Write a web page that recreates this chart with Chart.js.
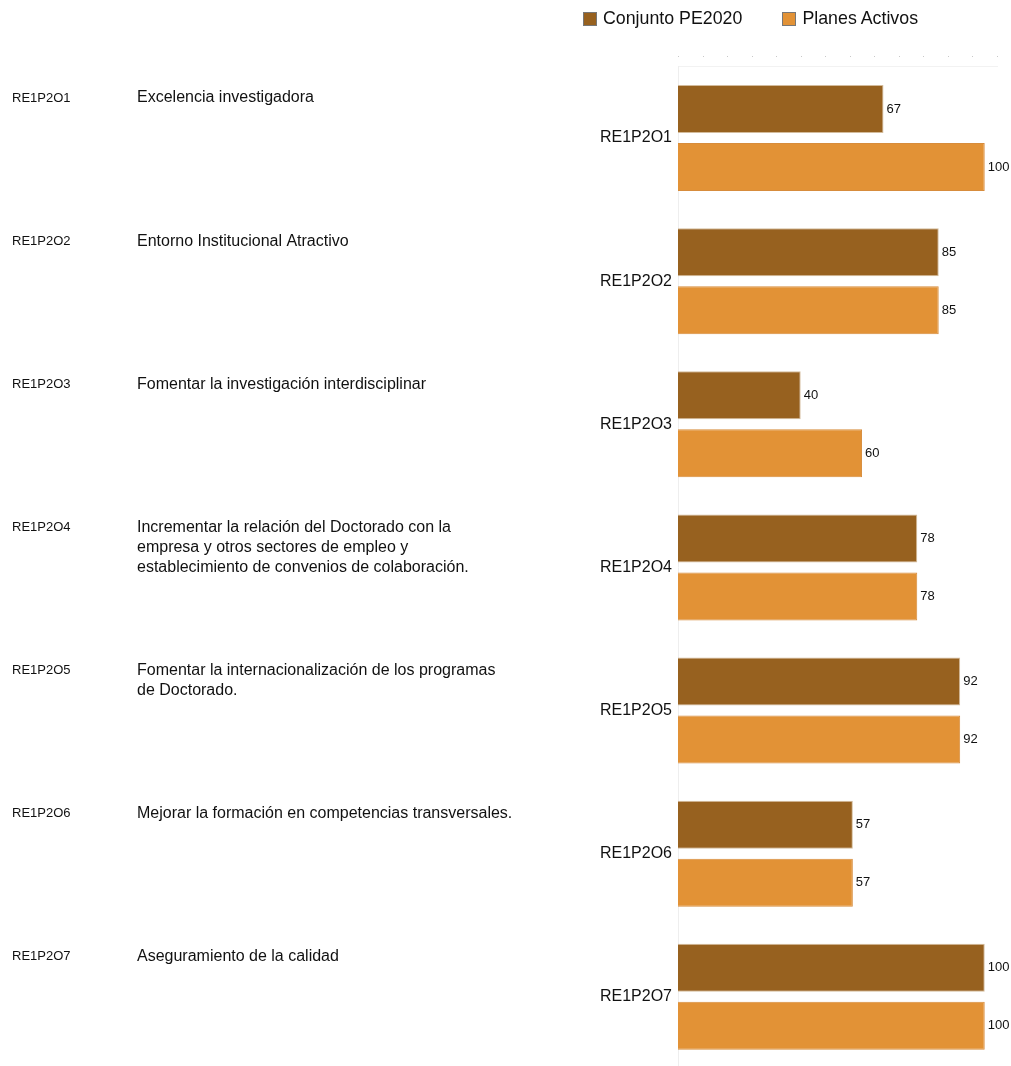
<!DOCTYPE html>
<html>
<head>
<meta charset="utf-8">
<script src="https://cdn.jsdelivr.net/npm/chart.js@4"></script>
<style>
  html, body { margin: 0; padding: 0; background: #fff; overflow: hidden; }
  #wrap { position: relative; width: 1011px; height: 1084px; }
  canvas { display: block; }
  #legend { position: absolute; top: 8px; left: 583px; display: flex; font-family: "Liberation Sans", Arial, sans-serif; font-size: 17.8px; color: #111; }
  .item { display: flex; align-items: center; margin-right: 40px; }
  .box { width: 14px; height: 14px; margin-right: 6px; border: 1px solid #777; box-sizing: border-box; }
</style>
</head>
<body>
<div id="wrap">
  <canvas id="c" width="1011" height="1084"></canvas>
  <div id="legend"></div>
</div>
<script>
const categories = ["RE1P2O1", "RE1P2O2", "RE1P2O3", "RE1P2O4", "RE1P2O5", "RE1P2O6", "RE1P2O7"];
const descriptions = [
  ["Excelencia investigadora"],
  ["Entorno Institucional Atractivo"],
  ["Fomentar la investigación interdisciplinar"],
  ["Incrementar la relación del Doctorado con la", "empresa y otros sectores de empleo y", "establecimiento de convenios de colaboración."],
  ["Fomentar la internacionalización de los programas", "de Doctorado."],
  ["Mejorar la formación en competencias transversales."],
  ["Aseguramiento de la calidad"]
];
const seriesNames = ["Conjunto PE2020", "Planes Activos"];
const conjuntoPE2020 = [67, 85, 40, 78, 92, 57, 100];
const planesActivos = [100, 85, 60, 78, 92, 57, 100];
const seriesColors = ["#97611F", "#E29236"];

const FONT = '"Liberation Sans", Arial, sans-serif';

// HTML legend built from series names/colors
const legend = document.getElementById('legend');
seriesNames.forEach((n, i) => {
  const it = document.createElement('div'); it.className = 'item';
  const b = document.createElement('div'); b.className = 'box'; b.style.background = seriesColors[i];
  const t = document.createElement('span'); t.textContent = n;
  it.appendChild(b); it.appendChild(t); legend.appendChild(it);
});

const sidePlugin = {
  id: 'side',
  afterDraw(chart) {
    const ctx = chart.ctx;
    const y = chart.scales.y;
    const x = chart.scales.x;
    ctx.save();
    // top dotted tick marks
    ctx.fillStyle = '#c8c8c8';
    x.ticks.forEach((t, i) => {
      const px = Math.round(x.getPixelForTick(i));
      ctx.fillRect(px, 56, 1, 1);
    });
    // left table
    ctx.textBaseline = 'middle';
    ctx.textAlign = 'left';
    categories.forEach((c, i) => {
      const cy = y.getPixelForValue(i) - 40;
      ctx.fillStyle = '#111';
      ctx.font = '13px ' + FONT;
      ctx.fillText(c, 12, cy);
      ctx.font = '16px ' + FONT;
      descriptions[i].forEach((line, k) => {
        ctx.fillText(line, 137, cy + k * 20);
      });
    });
    // value labels
    ctx.font = '13px ' + FONT;
    ctx.fillStyle = '#111';
    chart.data.datasets.forEach((ds, di) => {
      const meta = chart.getDatasetMeta(di);
      meta.data.forEach((bar, i) => {
        ctx.fillText(String(ds.data[i]), bar.x + 3, bar.y);
      });
    });
    ctx.restore();
  }
};

new Chart(document.getElementById('c'), {
  type: 'bar',
  data: {
    labels: categories,
    datasets: [
      { label: seriesNames[0], data: conjuntoPE2020, backgroundColor: seriesColors[0], borderColor: 'rgba(200,170,130,0.8)', borderWidth: 1, borderSkipped: 'left' },
      { label: seriesNames[1], data: planesActivos, backgroundColor: seriesColors[1], borderColor: 'rgba(215,140,60,1)', borderWidth: 1, borderSkipped: 'left' }
    ]
  },
  options: {
    indexAxis: 'y',
    responsive: false,
    animation: false,
    devicePixelRatio: 1,
    categoryPercentage: 0.811,
    barPercentage: 0.8276,
    layout: { padding: { left: 489, right: 14, top: 66.5, bottom: 0 } },
    plugins: { legend: { display: false }, tooltip: { enabled: false } },
    scales: {
      x: {
        position: 'top',
        min: 0, max: 104,
        ticks: { display: false, stepSize: 8 },
        grid: { display: false },
        border: { display: true, color: '#f2f2f2' },
        afterFit(s) { s.height = 0; }
      },
      y: {
        ticks: { color: '#111', font: { family: FONT, size: 16 }, padding: 6 },
        grid: { display: false, drawTicks: false, tickLength: 0 },
        border: { display: true, color: '#eeeeee' },
        afterFit(s) { s.width = 678 - 489; }
      }
    }
  },
  plugins: [sidePlugin]
});
</script>
</body>
</html>
